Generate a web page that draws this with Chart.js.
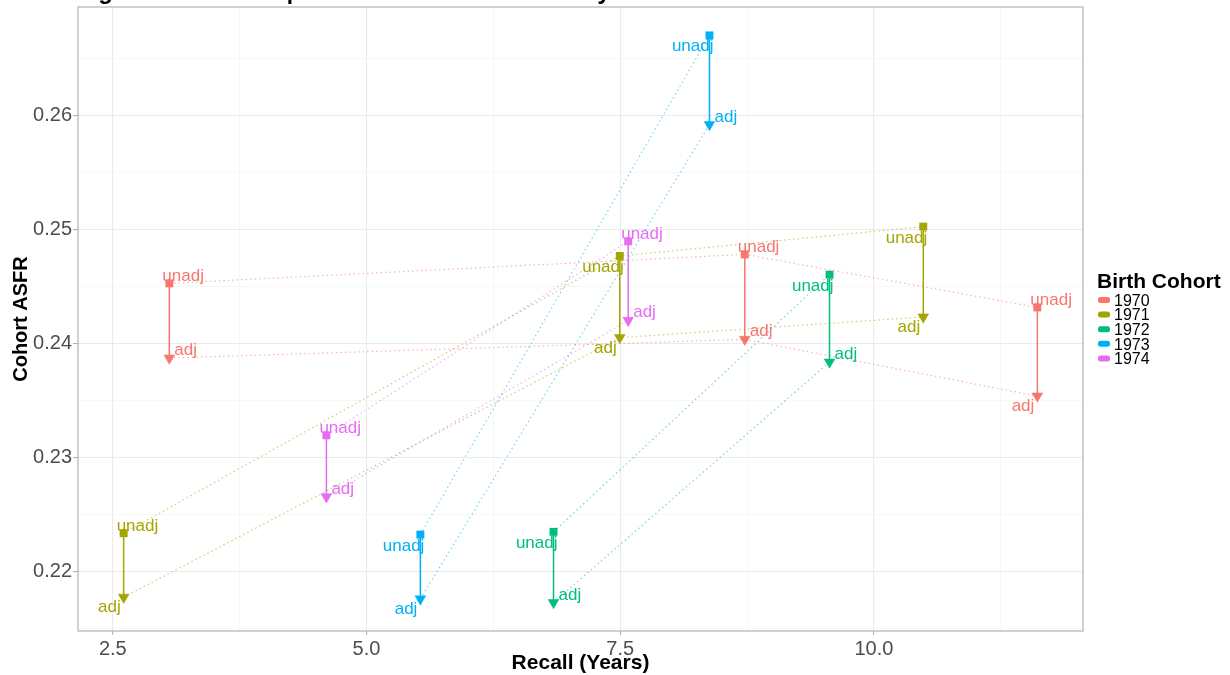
<!DOCTYPE html>
<html>
<head>
<meta charset="utf-8">
<script src="https://cdn.jsdelivr.net/npm/chart.js@4.4.1/dist/chart.umd.min.js"></script>
<style>
  html, body { margin: 0; padding: 0; background: #fff; }
  #wrap { width: 1230px; height: 675px; position: relative; }
</style>
</head>
<body>
<div id="wrap"><canvas id="recallChart"></canvas></div>
<script>
// values, one entry per birth cohort
var cohorts = ['1970', '1971', '1972', '1973', '1974']
var cohortColors = ['#F8766D', '#A3A500', '#00BF7D', '#00B0F6', '#E76BF3']

var recallYears = [
    [3.057, 8.728, 11.611],
    [2.607, 7.496, 10.487],
    [6.843, 9.563],
    [5.531, 8.380],
    [4.605, 7.579]
]
var unadjASFR = [
    [0.24529, 0.24783, 0.24318],
    [0.22339, 0.24769, 0.25026],
    [0.22351, 0.24605],
    [0.22327, 0.26702],
    [0.23197, 0.24897]
]
var adjASFR = [
    [0.23874, 0.24038, 0.23541],
    [0.21778, 0.24053, 0.24234],
    [0.21731, 0.23839],
    [0.21763, 0.25921],
    [0.22658, 0.24204]
]
// which side of the point the text label sits: 'ur' up-right, 'll' low-left
var unadjLabelSide = [['ur', 'ur', 'ur'], ['ur', 'll', 'll'], ['ll', 'll'], ['ll', 'll'], ['ur', 'ur']]
var adjLabelSide = [['ur', 'ur', 'll'], ['ll', 'll', 'll'], ['ur', 'ur'], ['ll', 'ur'], ['ur', 'ur']]

var xGridValues = [2.5, 3.75, 5.0, 6.25, 7.5, 8.75, 10.0, 11.25]
var xTickLabels = [2.5, 5.0, 7.5, 10.0]
var yGridValues = [0.215, 0.22, 0.225, 0.23, 0.235, 0.24, 0.245, 0.25, 0.255, 0.26, 0.265]
var yTickLabels = [0.22, 0.23, 0.24, 0.25, 0.26]

var chartTitle = 'Ages 30-34 ASFR | Birth Cohorts 1970-1974 by Recall'

Chart.defaults.font.family = '"Liberation Sans", Arial, Helvetica, sans-serif'

function isMajor(value, list) {
    return list.some(function (v) { return Math.abs(v - value) < 1e-9 })
}

function fade(hex, alpha) {
    var r = parseInt(hex.slice(1, 3), 16), g = parseInt(hex.slice(3, 5), 16), b = parseInt(hex.slice(5, 7), 16)
    return 'rgba(' + r + ',' + g + ',' + b + ',' + alpha + ')'
}

var datasets = []
cohorts.forEach(function (cohort, c) {
    var color = cohortColors[c]
    var segPoints = []
    recallYears[c].forEach(function (x, i) {
        segPoints.push({ x: x, y: unadjASFR[c][i] })
        segPoints.push({ x: x, y: adjASFR[c][i] })
        segPoints.push({ x: x, y: null })
    })
    datasets.push({
        label: cohort + ' change',
        data: segPoints,
        showLine: true,
        spanGaps: false,
        borderColor: color,
        borderWidth: 1.5,
        pointRadius: 0,
        order: 1
    })
    datasets.push({
        label: cohort + ' unadj',
        data: recallYears[c].map(function (x, i) { return { x: x, y: unadjASFR[c][i] } }),
        showLine: true,
        borderColor: fade(color, 0.55),
        borderWidth: 1.2,
        borderDash: [1.5, 3],
        pointStyle: 'rect',
        pointRadius: 5.6,
        pointBackgroundColor: color,
        pointBorderWidth: 0,
        order: 2
    })
    datasets.push({
        label: cohort + ' adj',
        data: recallYears[c].map(function (x, i) { return { x: x, y: adjASFR[c][i] } }),
        showLine: true,
        borderColor: fade(color, 0.55),
        borderWidth: 1.2,
        borderDash: [1.5, 3],
        pointStyle: 'triangle',
        pointRotation: 180,
        pointRadius: 6.2,
        pointBackgroundColor: color,
        pointBorderColor: color,
        pointBorderWidth: 0.5,
        order: 2
    })
})

var decorPlugin = {
    id: 'decor',
    afterDatasetsDraw: function (chart) {
        var ctx = chart.ctx
        var area = chart.chartArea
        var xs = chart.scales.x, ys = chart.scales.y
        ctx.save()
        // point labels
        ctx.font = '17px "Liberation Sans", Arial, sans-serif'
        ctx.textBaseline = 'alphabetic'
        cohorts.forEach(function (cohort, c) {
            ctx.fillStyle = cohortColors[c]
            recallYears[c].forEach(function (x, i) {
                var px = xs.getPixelForValue(x)
                var pu = ys.getPixelForValue(unadjASFR[c][i])
                var pa = ys.getPixelForValue(adjASFR[c][i])
                if (unadjLabelSide[c][i] === 'ur') {
                    ctx.textAlign = 'left'
                    ctx.fillText('unadj', px - 7, pu - 2)
                } else {
                    ctx.textAlign = 'right'
                    ctx.fillText('unadj', px + 4, pu + 16)
                }
                if (adjLabelSide[c][i] === 'ur') {
                    ctx.textAlign = 'left'
                    ctx.fillText('adj', px + 5, pa - 3)
                } else {
                    ctx.textAlign = 'right'
                    ctx.fillText('adj', px - 3, pa + 15)
                }
            })
        })
        // panel border
        ctx.strokeStyle = '#b3b3b3'
        ctx.lineWidth = 1.2
        ctx.strokeRect(area.left, area.top, area.right - area.left, area.bottom - area.top)

        // legend
        var lx = area.right + 14
        ctx.fillStyle = '#000'
        ctx.textAlign = 'left'
        ctx.font = 'bold 21px "Liberation Sans", Arial, sans-serif'
        ctx.fillText('Birth Cohort', lx, 288)
        ctx.font = '16px "Liberation Sans", Arial, sans-serif'
        cohorts.forEach(function (cohort, c) {
            var cy = 300 + c * 14.6
            ctx.fillStyle = cohortColors[c]
            ctx.beginPath()
            if (ctx.roundRect) ctx.roundRect(lx + 1, cy - 3, 12, 6, 2.5)
            else ctx.rect(lx + 1, cy - 3, 12, 6)
            ctx.fill()
            ctx.fillStyle = '#000'
            ctx.fillText(cohort, lx + 17, cy + 5.8)
        })

        // title, mostly cut off by the top edge
        ctx.font = 'bold 24px "Liberation Sans", Arial, sans-serif'
        ctx.fillStyle = '#000'
        ctx.textBaseline = 'alphabetic'
        ctx.fillText(chartTitle, 81, -1.5)
        ctx.restore()
    }
}

var recallChartCanvas = document.getElementById('recallChart').getContext('2d')

var recallChart = new Chart(recallChartCanvas, {
    type: 'scatter',
    data: { datasets: datasets },
    options: {
        responsive: true,
        maintainAspectRatio: false,
        animation: false,
        layout: { padding: { left: 0, right: 147, top: 7, bottom: 0 } },
        plugins: {
            legend: { display: false },
            tooltip: { enabled: false }
        },
        scales: {
            x: {
                type: 'linear',
                min: 2.157,
                max: 12.061,
                afterFit: function (scale) {
                    scale.height = 44
                    scale.paddingLeft = 0
                    scale.paddingRight = 0
                },
                afterBuildTicks: function (scale) {
                    scale.ticks = xGridValues.map(function (v) { return { value: v } })
                },
                border: { display: false },
                grid: {
                    color: function (ctx) { return isMajor(ctx.tick.value, xTickLabels) ? '#ebebeb' : '#f3f3f3' },
                    lineWidth: function (ctx) { return isMajor(ctx.tick.value, xTickLabels) ? 1.1 : 0.7 },
                    tickColor: function (ctx) { return isMajor(ctx.tick.value, xTickLabels) ? '#b3b3b3' : 'rgba(0,0,0,0)' },
                    tickLength: 4
                },
                ticks: {
                    color: '#4d4d4d',
                    font: { size: 20 },
                    padding: 2,
                    maxRotation: 0,
                    autoSkip: false,
                    callback: function (value) { return isMajor(value, xTickLabels) ? value.toFixed(1) : '' }
                },
                title: {
                    display: true,
                    text: 'Recall (Years)',
                    color: '#000',
                    font: { size: 21, weight: 'bold' },
                    padding: { top: 0, bottom: -1 }
                }
            },
            y: {
                type: 'linear',
                min: 0.21482,
                max: 0.26951,
                afterFit: function (scale) {
                    scale.width = 78
                    scale.paddingTop = 0
                    scale.paddingBottom = 0
                },
                afterBuildTicks: function (scale) {
                    scale.ticks = yGridValues.map(function (v) { return { value: v } })
                },
                border: { display: false },
                grid: {
                    color: function (ctx) { return isMajor(ctx.tick.value, yTickLabels) ? '#ebebeb' : '#f3f3f3' },
                    lineWidth: function (ctx) { return isMajor(ctx.tick.value, yTickLabels) ? 1.1 : 0.7 },
                    tickColor: function (ctx) { return isMajor(ctx.tick.value, yTickLabels) ? '#b3b3b3' : 'rgba(0,0,0,0)' },
                    tickLength: 5
                },
                ticks: {
                    color: '#4d4d4d',
                    font: { size: 20 },
                    padding: 1,
                    autoSkip: false,
                    callback: function (value) { return isMajor(value, yTickLabels) ? value.toFixed(2) : '' }
                },
                title: {
                    display: true,
                    text: 'Cohort ASFR',
                    color: '#000',
                    font: { size: 20, weight: 'bold' },
                    padding: { top: 9, bottom: 0 }
                }
            }
        }
    },
    plugins: [decorPlugin]
})
</script>
</body>
</html>
